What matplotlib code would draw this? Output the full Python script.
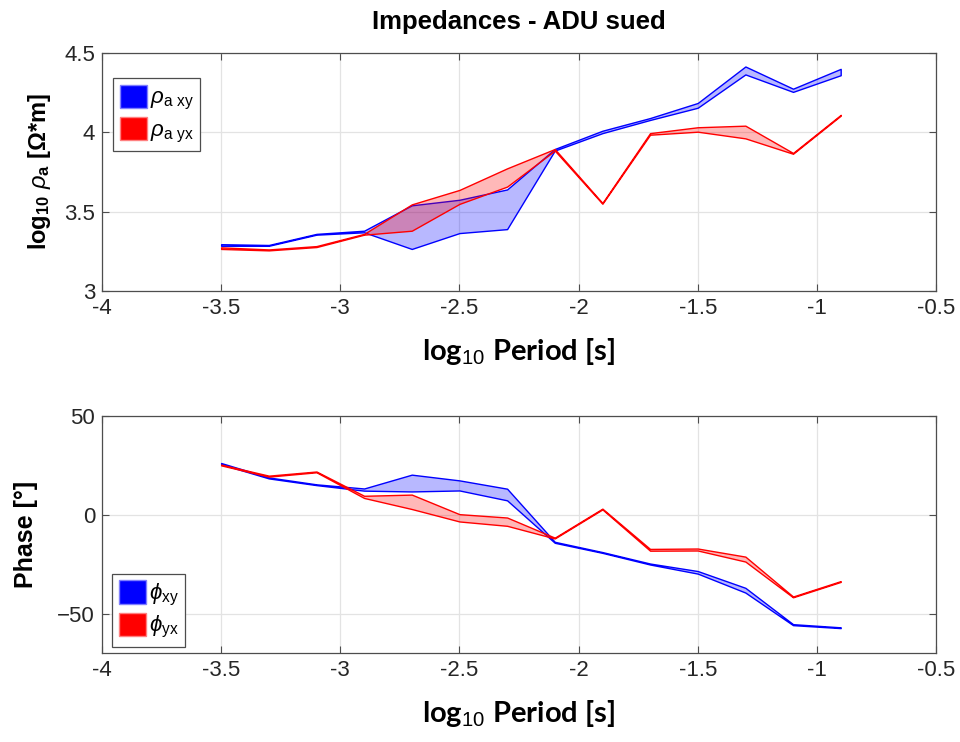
import numpy as np
import matplotlib
matplotlib.use("Agg")
import matplotlib.pyplot as plt
from matplotlib.patches import Patch

plt.rcParams['font.family'] = ['Liberation Sans', 'DejaVu Sans']
plt.rcParams['mathtext.fontset'] = 'custom'
plt.rcParams['mathtext.rm'] = 'Liberation Sans'
plt.rcParams['mathtext.it'] = 'Liberation Sans:italic'
plt.rcParams['mathtext.bf'] = 'Liberation Sans:bold'

# log10 period
period = [-3.5, -3.3, -3.1, -2.9, -2.7, -2.5, -2.3, -2.1, -1.9, -1.7, -1.5, -1.3, -1.1, -0.9]

# apparent resistivity bands (log10)
rho_xy_hi = [3.295, 3.29, 3.36, 3.38, 3.54, 3.575, 3.64, 3.895, 4.01, 4.09, 4.185, 4.415, 4.275, 4.40]
rho_xy_lo = [3.285, 3.285, 3.355, 3.37, 3.265, 3.365, 3.39, 3.885, 3.995, 4.078, 4.155, 4.365, 4.255, 4.36]
rho_yx_hi = [3.275, 3.262, 3.283, 3.36, 3.546, 3.637, 3.773, 3.895, 3.555, 3.995, 4.032, 4.042, 3.87, 4.11]
rho_yx_lo = [3.265, 3.256, 3.277, 3.355, 3.38, 3.549, 3.658, 3.885, 3.55, 3.985, 4.004, 3.962, 3.865, 4.105]

# phase bands (degrees)
phi_xy_hi = [26.2, 18.9, 15.4, 13.3, 20.3, 17.4, 13.2, -13.7, -18.9, -24.7, -28.5, -37.0, -55.4, -57.0]
phi_xy_lo = [25.6, 18.4, 15.0, 12.2, 11.8, 12.3, 7.3, -14.2, -19.3, -25.2, -29.8, -39.4, -55.9, -57.4]
phi_yx_hi = [25.4, 19.8, 21.9, 9.6, 10.2, 0.3, -1.4, -11.6, 3.1, -17.3, -17.1, -21.2, -41.4, -33.6]
phi_yx_lo = [25.0, 19.3, 21.5, 8.5, 2.9, -3.4, -5.6, -12.0, 2.7, -18.2, -18.1, -23.7, -41.8, -34.0]

blue = (0, 0, 1)
red = (1, 0, 0)
blue_fill = (0, 0, 1, 0.28)
red_fill = (1, 0, 0, 0.28)
spine_col = '#4d4d4d'

fig = plt.figure(figsize=(9.6, 7.42), dpi=100)
ax1 = fig.add_axes([102/960, 1 - 291/742, 834/960, 238/742])
ax2 = fig.add_axes([102/960, 1 - 653/742, 834/960, 237/742])

ax1.fill_between(period, rho_xy_lo, rho_xy_hi, facecolor=blue_fill, edgecolor=blue, lw=1)
ax1.fill_between(period, rho_yx_lo, rho_yx_hi, facecolor=red_fill, edgecolor=red, lw=1)
ax2.fill_between(period, phi_xy_lo, phi_xy_hi, facecolor=blue_fill, edgecolor=blue, lw=1)
ax2.fill_between(period, phi_yx_lo, phi_yx_hi, facecolor=red_fill, edgecolor=red, lw=1)

for ax in (ax1, ax2):
    ax.set_xlim(-4, -0.5)
    ax.set_xticks([-4, -3.5, -3, -2.5, -2, -1.5, -1, -0.5])
    ax.set_xticklabels(['-4', '-3.5', '-3', '-2.5', '-2', '-1.5', '-1', '-0.5'])
    ax.grid(True, color='#e3e3e3', lw=0.9)
    ax.set_axisbelow(True)
    ax.tick_params(direction='in', top=True, right=True, length=5, width=0.8,
                   labelsize=16, colors=spine_col, labelcolor='#262626', pad=5)
    for s in ax.spines.values():
        s.set_color(spine_col)
        s.set_linewidth(0.9)
    ax.set_xlabel(r'log$_{10}$ Period [s]', fontsize=21, fontweight='bold',
                  family=['Lato', 'DejaVu Sans'], labelpad=12)

ax1.set_ylim(3, 4.5)
ax1.set_yticks([3, 3.5, 4, 4.5])
ax1.set_yticklabels(['3', '3.5', '4', '4.5'])
ax1.set_ylabel(r'$\mathbf{log_{10}}$ $\rho_{\mathbf{a}}$ $\mathbf{[\Omega}$*$\mathbf{m]}$',
               fontsize=17, fontweight='bold', labelpad=8)
ax1.set_title('Impedances - ADU sued', fontsize=18.5, fontweight='bold', pad=17)

ax2.set_ylim(-70, 50)
ax2.set_yticks([-50, 0, 50])
ax2.set_ylabel('Phase [°]', fontsize=18, fontweight='bold', labelpad=14)

leg_kw = dict(fontsize=16, handlelength=1.25, handleheight=1.25, handletextpad=0.1,
              labelspacing=0.2, borderpad=0.3, fancybox=False, framealpha=1,
              edgecolor=spine_col, borderaxespad=0)
h1 = [Patch(facecolor=blue, edgecolor=(0.5, 0.5, 1)),
      Patch(facecolor=red, edgecolor=(1, 0.5, 0.5))]
l1 = ax1.legend(h1, [r'$\rho_{\mathrm{a\ xy}}$', r'$\rho_{\mathrm{a\ yx}}$'],
                loc='upper left', bbox_to_anchor=(0.013, 0.895), **leg_kw)
l1.get_frame().set_linewidth(0.9)
h2 = [Patch(facecolor=blue, edgecolor=(0.5, 0.5, 1)),
      Patch(facecolor=red, edgecolor=(1, 0.5, 0.5))]
l2 = ax2.legend(h2, [r'$\phi_{\mathrm{xy}}$', r'$\phi_{\mathrm{yx}}$'],
                loc='lower left', bbox_to_anchor=(0.012, 0.025), **leg_kw)
l2.get_frame().set_linewidth(0.9)

fig.savefig('out.png', dpi=100)
